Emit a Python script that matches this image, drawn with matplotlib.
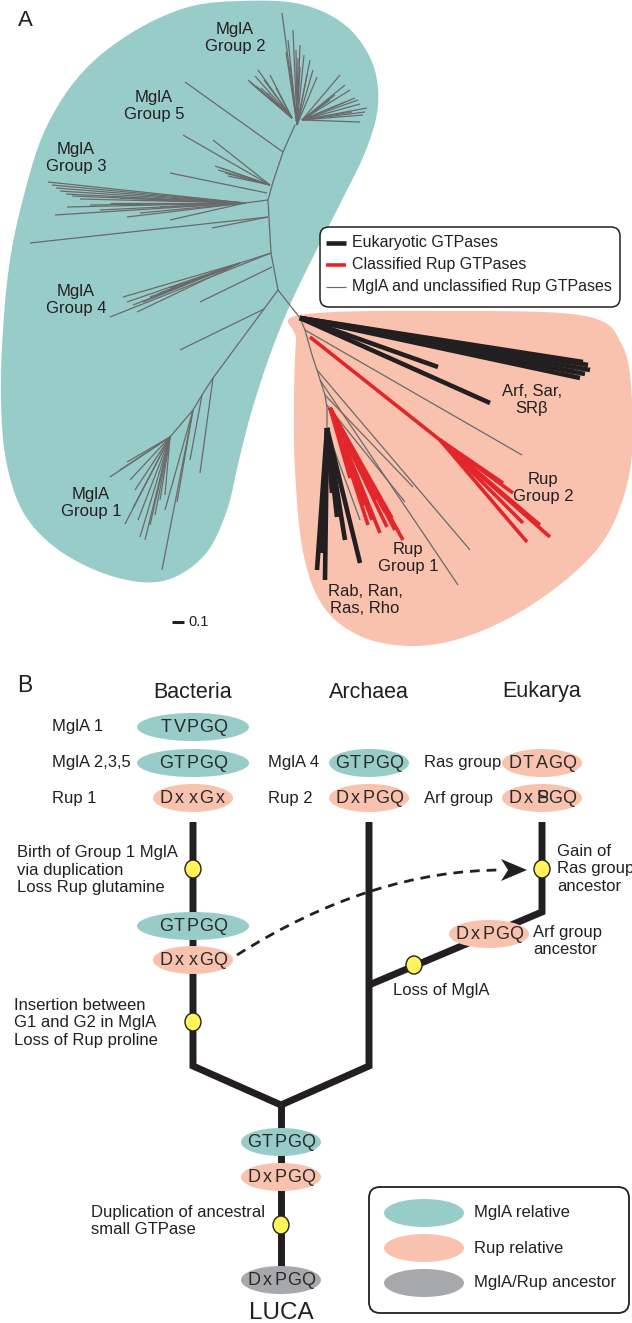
import numpy as np
import matplotlib.pyplot as plt
from matplotlib.patches import Ellipse, FancyBboxPatch, Polygon, PathPatch
from matplotlib.path import Path

plt.rcParams['font.family'] = ['Liberation Sans', 'DejaVu Sans']

TEAL = '#98ccc8'
PINK = '#f8c2ae'
ANC = '#a7a8ac'
GREY = '#6a6a6a'
RED = '#e2262c'
YEL = '#fff45c'
INK = '#231f20'

# ---------------- panel A data (pixel positions) ----------------
teal_outline = [(185, 8), (240, 1), (300, 4), (345, 25), (372, 62), (378, 105), (366, 150),
                (342, 200), (314, 255), (290, 305), (270, 355), (252, 410), (239, 460),
                (227, 510), (207, 552), (175, 577), (140, 582), (95, 570), (52, 545),
                (22, 510), (6, 460), (1, 400), (3, 330), (10, 260), (24, 195), (45, 130),
                (80, 75), (128, 35)]
pink_outline = [(300, 315), (450, 311), (585, 316), (622, 345), (632, 400), (630, 470),
                (610, 530), (575, 572), (520, 612), (462, 638), (410, 646), (360, 636),
                (323, 606), (303, 552), (295, 470), (294, 400), (296, 340)]

mgla_spine = [(295, 125), (283, 152), (273, 182), (268, 200), (269, 218), (271, 253),
              (278, 290), (300, 318)]
rup_spine = [(300, 318), (305, 330), (312, 355), (317, 370), (325, 395), (327, 408), (327, 428)]
group1_spine = [(278, 290), (264, 309), (213, 378), (202, 395), (193, 410), (170, 437)]

group2 = [
    ((292, 118), [(248, 80), (250, 82), (252, 84), (255, 76), (256, 86), (258, 70), (261, 88),
                  (264, 80), (267, 93), (270, 75), (272, 100), (276, 88), (280, 104)]),
    ((297, 125), [(282, 13), (288, 40), (290, 62), (293, 30), (296, 50), (298, 58), (300, 45),
                  (300, 67), (304, 55), (307, 75), (310, 60), (313, 70), (317, 77), (286, 52)]),
    ((302, 120), [(340, 75), (345, 85), (350, 90), (355, 98), (358, 100), (360, 104),
                  (367, 108), (365, 112), (363, 115), (360, 122), (352, 112), (345, 102),
                  (335, 95), (330, 100)]),
]
group5 = [
    ((283, 152), [(185, 82)]),
    ((270, 185), [(183, 135), (213, 140), (215, 166), (218, 170), (221, 168), (225, 173),
                  (228, 176), (232, 172)]),
    ((267, 193), [(170, 173)]),
]
group3 = [
    ((268, 200), [(245, 203)]),
    ((245, 203), [(48, 182), (52, 185), (56, 188), (60, 191), (66, 194), (72, 196), (80, 199),
                  (55, 215), (67, 207), (90, 205), (100, 210), (110, 203), (127, 217),
                  (140, 213), (160, 207), (170, 220), (150, 200), (120, 198)]),
    ((268, 217), [(30, 243), (212, 228)]),
]
group4 = [
    ((271, 253), [(240, 263), (110, 317)]),
    ((240, 263), [(123, 297), (127, 302), (133, 305), (137, 312), (143, 302), (150, 297),
                  (160, 293), (170, 288)]),
    ((272, 267), [(200, 302)]),
]
group1 = [
    ((264, 309), [(180, 350)]),
    ((213, 378), [(200, 473)]),
    ((202, 395), [(190, 460)]),
    ((193, 410), [(162, 570), (165, 510), (177, 502)]),
    ((170, 437), [(110, 477), (127, 462), (120, 470), (133, 508), (125, 524), (138, 520),
                  (140, 537), (145, 540), (150, 525), (155, 515), (160, 500), (165, 495),
                  (135, 490), (130, 480)]),
]
rup_grey = [
    ((305, 330), [(522, 455)]),
    ((317, 370), [(470, 550)]),
    ((320, 380), [(458, 585)]),
    ((325, 395), [(413, 487)]),
    ((327, 405), [(405, 502)]),
    ((327, 430), [(360, 520), (342, 530)]),
]
arf_euk = ((300, 318), [(438, 367), (490, 403), (575, 372), (580, 378), (583, 362),
                        (585, 374), (588, 365), (590, 370)])
ras_euk = ((327, 428), [(317, 570), (322, 553), (325, 580), (332, 493), (337, 517),
                        (345, 540), (360, 563)])
rup2_stem = [(310, 337), (440, 440)]
rup2_tips = [(503, 483), (513, 493), (523, 523), (527, 542), (550, 537), (540, 525)]
rup1 = ((330, 408), [(403, 540), (395, 530), (387, 527), (380, 533), (372, 520), (365, 505),
                     (360, 493), (375, 500), (385, 512), (350, 478), (368, 525), (392, 518)])

clade_labels = ['MglA\nGroup 2', 'MglA\nGroup 5', 'MglA\nGroup 3', 'MglA\nGroup 4',
                'MglA\nGroup 1', 'Arf, Sar,\nSRβ', 'Rup\nGroup 2', 'Rup\nGroup 1',
                'Rab, Ran,\nRas, Rho']
clade_xy = [(235, 38), (154, 106), (76, 158), (76, 300), (91, 503), (532, 400),
            (543, 488), (408, 558), (365, 600)]

legA_labels = ['Eukaryotic GTPases', 'Classified Rup GTPases', 'MglA and unclassified Rup GTPases']

# ---------------- panel B data ----------------
col_names = ['Bacteria', 'Archaea', 'Eukarya']
col_x = [193, 369, 542]
row_y = [727, 763, 798]

bact_labels = ['MglA 1', 'MglA 2,3,5', 'Rup 1']
bact_motifs = ['TVPGQ', 'GTPGQ', 'DxxGx']
bact_kinds = ['mgla', 'mgla', 'rup']
arch_labels = ['MglA 4', 'Rup 2']
arch_motifs = ['GTPGQ', 'DxPGQ']
arch_kinds = ['mgla', 'rup']
euk_labels = ['Ras group', 'Arf group']
euk_motifs = ['DTAGQ', 'Dx#GQ']   # '#' = overprinted S/P
euk_kinds = ['rup', 'rup']

trunk_bact = [(193, 822), (193, 1066), (281, 1105)]
trunk_arch = [(369, 822), (369, 1066), (281, 1105)]
trunk_euk = [(542, 822), (542, 912), (369, 985)]
trunk_luca = [(281, 1105), (281, 1280)]

events = [(193, 869), (193, 1022), (542, 869), (414, 965), (281, 1225)]
inner_nodes = [(193, 926, 'GTPGQ', 'mgla', 112), (193, 960, 'DxxGQ', 'rup', 80),
               (489, 934, 'DxPGQ', 'rup', 80), (281, 1142, 'GTPGQ', 'mgla', 80),
               (281, 1177, 'DxPGQ', 'rup', 80), (281, 1280, 'DxPGQ', 'anc', 80)]

notes = ['Birth of Group 1 MglA\nvia duplication\nLoss Rup glutamine',
         'Gain of\nRas group\nancestor',
         'Arf group\nancestor',
         'Loss of MglA',
         'Insertion between\nG1 and G2 in MglA\nLoss of Rup proline',
         'Duplication of ancestral\nsmall GTPase']
notes_xy = [(17, 870), (557, 869), (533, 941), (393, 990), (14, 1023), (91, 1221)]

legB_labels = ['MglA relative', 'Rup relative', 'MglA/Rup ancestor']
legB_kinds = ['mgla', 'rup', 'anc']
legB_y = [1213, 1248, 1283]

fills = {'mgla': TEAL, 'rup': PINK, 'anc': ANC}


def smooth_closed(pts, n=16):
    P = np.asarray(pts, float)
    t = np.linspace(0, 1, n, endpoint=False)[:, None]
    out = []
    for i in range(len(P)):
        p0, p1, p2, p3 = P[i - 1], P[i], P[(i + 1) % len(P)], P[(i + 2) % len(P)]
        out.append(0.5 * (2 * p1 + (-p0 + p2) * t + (2 * p0 - 5 * p1 + 4 * p2 - p3) * t ** 2
                          + (-p0 + 3 * p1 - 3 * p2 + p3) * t ** 3))
    return np.vstack(out)


fig = plt.figure(figsize=(6.32, 13.23), dpi=100)
ax = fig.add_axes([0, 0, 1, 1])
ax.set_xlim(0, 632)
ax.set_ylim(1323, 0)
ax.axis('off')

# ---------- panel A ----------
ax.add_patch(Polygon(smooth_closed(teal_outline), closed=True, fc=TEAL, ec='none', zorder=0))
ax.add_patch(Polygon(smooth_closed(pink_outline), closed=True, fc=PINK, ec='none', zorder=0))


def fan(node, tips, **kw):
    for tx, ty in tips:
        ax.plot([node[0], tx], [node[1], ty], solid_capstyle='butt', **kw)


thin = dict(color=GREY, lw=0.9, zorder=2)
for spine in (mgla_spine, rup_spine, group1_spine):
    ax.plot(*zip(*spine), **thin)
for clade in (group2, group5, group3, group4, group1, rup_grey):
    for node, tips in clade:
        fan(node, tips, **thin)

fan(*arf_euk, color=INK, lw=3.3, zorder=3)
fan(*ras_euk, color=INK, lw=3.3, zorder=3)
ax.plot(*zip(*rup2_stem), color=RED, lw=2.6, zorder=3, solid_capstyle='butt')
fan(rup2_stem[1], rup2_tips, color=RED, lw=2.6, zorder=3)
fan(*rup1, color=RED, lw=2.6, zorder=3)

for lab, (x, y) in zip(clade_labels, clade_xy):
    ax.text(x, y, lab, ha='center', va='center', fontsize=12, color=INK,
            linespacing=1.15, zorder=5)

ax.text(25, 20, 'A', ha='center', va='center', fontsize=16, color=INK)

# legend of panel A
ax.add_patch(FancyBboxPatch((320, 227), 300, 80, boxstyle='round,pad=0,rounding_size=9',
                            fc='white', ec=INK, lw=1.1, zorder=6))
for i, (lab, c, w) in enumerate(zip(legA_labels, [INK, RED, GREY], [3.3, 2.6, 0.85])):
    yy = 243 + 22 * i
    ax.plot([326, 346], [yy, yy], color=c, lw=w, zorder=7, solid_capstyle='butt')
    ax.text(352, yy, lab, ha='left', va='center', fontsize=11.5, color=INK, zorder=7)

# scale bar
ax.plot([172, 184], [622, 622], color=INK, lw=2.2, solid_capstyle='butt')
ax.text(188, 622, '0.1', ha='left', va='center', fontsize=10.5, color=INK)

# ---------- panel B ----------
ax.text(25, 686, 'B', ha='center', va='center', fontsize=16.5, color=INK)
for name, x in zip(col_names, col_x):
    ax.text(x, 692, name, ha='center', va='center', fontsize=15.5, color=INK)


def motif(x, y, s, kind, w=80, h=28):
    ax.add_patch(Ellipse((x, y), w, h, fc=fills[kind], ec='none', zorder=4))
    n = len(s)
    for i, ch in enumerate(s):
        cx = x + (i - (n - 1) / 2) * 13.5
        glyphs = ['S', 'P'] if ch == '#' else [ch]
        for g in glyphs:
            ax.text(cx, y + 0.5, g, ha='center', va='center', fontsize=13, color='#2a2a2a',
                    zorder=5)


for lab, mot, kind, y in zip(bact_labels, bact_motifs, bact_kinds, row_y):
    ax.text(52, y, lab, ha='left', va='center', fontsize=12, color=INK)
    motif(col_x[0], y, mot, kind, w=112 if kind == 'mgla' else 80)
for lab, mot, kind, y in zip(arch_labels, arch_motifs, arch_kinds, row_y[1:]):
    ax.text(268, y, lab, ha='left', va='center', fontsize=12, color=INK)
    motif(col_x[1], y, mot, kind)
for lab, mot, kind, y in zip(euk_labels, euk_motifs, euk_kinds, row_y[1:]):
    ax.text(424, y, lab, ha='left', va='center', fontsize=12, color=INK)
    motif(col_x[2], y, mot, kind)

for tr in (trunk_bact, trunk_arch, trunk_euk, trunk_luca):
    ax.plot(*zip(*tr), color=INK, lw=5, solid_joinstyle='miter', solid_capstyle='butt',
            zorder=2)

for x, y, mot, kind, w in inner_nodes:
    motif(x, y, mot, kind, w=w)

for x, y in events:
    ax.add_patch(Ellipse((x, y), 16, 18, fc=YEL, ec=INK, lw=1.0, zorder=6))

for txt, (x, y) in zip(notes, notes_xy):
    ax.text(x, y, txt, ha='left', va='center', fontsize=12, color=INK, linespacing=1.2)

ax.text(281, 1313, 'LUCA', ha='center', va='center', fontsize=17.5, color=INK)

# dashed transfer arrow (quadratic curve)
p0, p1, p2 = (237, 955), (371, 870), (503, 870)
ax.add_patch(PathPatch(Path([p0, p1, p2], [Path.MOVETO, Path.CURVE3, Path.CURVE3]),
                       fc='none', ec=INK, lw=2.0, ls=(0, (3.5, 2.5)), zorder=3))
tip = (527, 870)
ax.add_patch(Polygon([tip, (tip[0] - 26, tip[1] - 11), (tip[0] - 19, tip[1]),
                      (tip[0] - 26, tip[1] + 11)], closed=True, fc=INK, ec='none', zorder=3))

# legend of panel B
ax.add_patch(FancyBboxPatch((369, 1187), 260, 126, boxstyle='round,pad=0,rounding_size=11',
                            fc='white', ec=INK, lw=1.3, zorder=3))
for lab, kind, y in zip(legB_labels, legB_kinds, legB_y):
    ax.add_patch(Ellipse((424, y), 80, 28, fc=fills[kind], ec='none', zorder=4))
    ax.text(474, y, lab, ha='left', va='center', fontsize=12, color=INK, zorder=5)

fig.savefig('out.png', dpi=100)
